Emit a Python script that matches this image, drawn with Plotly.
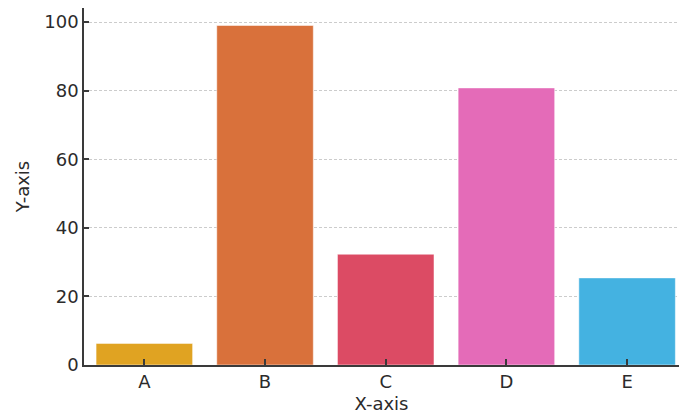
import plotly.graph_objects as go

categories = ["A", "B", "C", "D", "E"]
values = [6.3, 99.0, 32.3, 80.8, 25.4]
colors = ["#E0A322", "#D9713B", "#DC4B64", "#E46BB8", "#44B2E1"]
y_ticks = [0, 20, 40, 60, 80, 100]

fig = go.Figure(go.Bar(
    x=categories, y=values,
    marker=dict(color=colors, line=dict(color="rgba(255,255,255,0.5)", width=1)),
    width=0.8,
))

fig.update_layout(
    width=679, height=416,
    margin=dict(l=84, r=0, t=8, b=51),
    plot_bgcolor="white", paper_bgcolor="white",
    font=dict(family="DejaVu Sans", color="#2b2b2b", size=18),
    showlegend=False,
    bargap=0.2,
)
fig.update_xaxes(
    range=[-0.5, 4.43],
    automargin=False,
    showline=True, linecolor="#3a3a3a", linewidth=1.5,
    ticks="inside", ticklen=6, tickcolor="#3a3a3a", tickwidth=1.5,
    showgrid=False,
    title=dict(text="X-axis", font=dict(size=18), standoff=6),
    tickfont=dict(size=18),
)
fig.update_yaxes(
    range=[0, 104.1],
    automargin=False,
    tickvals=y_ticks,
    showline=True, linecolor="#3a3a3a", linewidth=1.5,
    ticks="inside", ticklen=5, tickcolor="#3a3a3a", tickwidth=1.5,
    showgrid=True, gridcolor="#cccccc", griddash="3px,2px", gridwidth=1,
    zeroline=False,
    title=dict(text="Y-axis", font=dict(size=18), standoff=10),
    tickfont=dict(size=18),
)

fig.write_html(
    "out.html",
    config={"displayModeBar": False},
    post_script="document.body.style.margin='0';document.body.style.overflow='hidden';",
)
